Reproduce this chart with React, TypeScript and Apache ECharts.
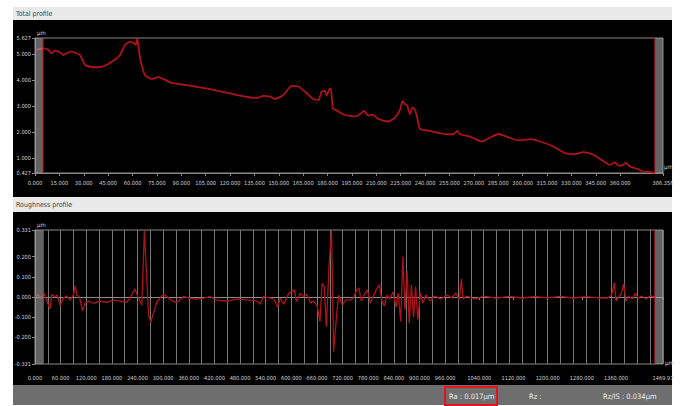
import React, { useEffect, useRef } from "react";
import * as echarts from "echarts";

// ---- data ----
const totalProfile: [number, number][] = [
  [0, 5.15], [2.5, 5.2], [5.5, 5.23], [8.2, 5.17], [10.2, 5.04], [12.3, 5.13], [15.4, 5.08],
  [17.4, 4.97], [19.5, 5.04], [22.6, 5.1], [25.6, 5.04], [27.7, 4.97], [30.8, 4.59], [33.8, 4.52],
  [39.0, 4.5], [43.0, 4.56], [48.2, 4.75], [52.3, 4.97], [55.4, 5.36], [58.4, 5.49], [60.9, 5.42],
  [62.1, 5.36], [62.9, 5.62], [64.6, 4.85], [67.7, 4.2], [71.8, 4.05], [75.9, 4.12], [78.9, 4.05],
  [83.1, 3.92], [95.4, 3.79], [109.7, 3.63], [124.1, 3.43], [136.4, 3.31], [140.5, 3.4],
  [144.6, 3.37], [147.6, 3.28], [152.8, 3.43], [157.9, 3.78], [162.0, 3.76], [167.2, 3.5],
  [171.2, 3.28], [174.3, 3.24], [176.4, 3.56], [178.4, 3.59], [179.4, 3.41], [180.9, 3.63],
  [182.0, 3.69], [183.3, 2.9], [185.6, 2.84], [189.7, 2.68], [193.8, 2.63], [196.9, 2.6],
  [199.9, 2.69], [202.4, 2.82], [205.0, 2.64], [207.7, 2.67], [211.2, 2.51], [217.3, 2.41],
  [221.5, 2.56], [224.5, 2.86], [226.2, 3.2], [227.6, 3.08], [229.0, 3.02], [230.7, 2.69],
  [232.1, 2.95], [233.8, 2.86], [235.2, 2.54], [236.9, 2.13], [243.0, 2.05], [253.3, 1.92],
  [257.4, 1.92], [259.8, 2.05], [261.5, 1.92], [267.6, 1.83], [274.8, 1.64], [279.9, 1.79],
  [285.0, 1.93], [290.2, 1.83], [297.3, 1.68], [304.5, 1.73], [310.7, 1.64], [318.9, 1.45],
  [326.0, 1.19], [332.2, 1.15], [337.3, 1.23], [343.5, 1.13], [348.6, 0.93], [353.7, 0.74],
  [356.8, 0.84], [358.9, 0.71], [362.0, 0.74], [363.4, 0.83], [366.0, 0.68], [370.2, 0.59],
  [374.3, 0.48], [378.4, 0.46], [381.5, 0.43],
];

const roughProfile: [number, number][] = [
  [0, 0.0], [8, 0.012], [15, -0.008], [21, 0.018], [27, -0.015], [35, -0.059], [39, 0.013],
  [47, 0.002], [52, 0.01], [59, -0.043], [66, -0.006], [74, 0.006], [82, -0.015], [90, 0.01],
  [94, 0.056], [98, 0.01], [104, 0.002], [111, -0.069], [117, -0.031], [125, -0.02], [137, -0.031],
  [152, -0.02], [168, -0.026], [184, -0.015], [199, -0.02], [215, -0.026], [223, -0.003],
  [234, 0.04], [242, -0.006], [250, -0.04], [256, 0.326], [262, 0.076], [266, -0.089],
  [271, -0.125], [277, -0.081], [285, -0.026], [295, 0.002], [302, 0.013], [313, -0.006],
  [324, -0.023], [332, -0.026], [348, 0.002], [363, -0.006], [379, -0.01], [395, -0.006],
  [410, 0.002], [426, -0.015], [449, -0.02], [473, -0.01], [504, -0.015], [520, -0.02],
  [527, -0.036], [535, 0.002], [547, -0.003], [559, -0.01], [568, -0.048], [574, -0.006],
  [582, -0.036], [594, 0.018], [602, 0.03], [607, 0.035], [612, -0.023], [621, 0.018],
  [629, 0.002], [637, 0.013], [645, -0.031], [652, -0.02], [660, -0.04], [667, -0.122],
  [672, 0.068], [677, 0.051], [682, -0.147], [688, 0.142], [694, 0.331], [699, -0.27],
  [706, -0.089], [711, 0.01], [719, -0.04], [727, -0.015], [738, -0.015], [745, -0.005],
  [752, 0.03], [758, 0.045], [764, -0.02], [770, 0.01], [778, 0.035], [785, -0.03], [792, 0.005],
  [800, 0.04], [806, 0.06], [812, -0.02], [818, -0.045], [824, 0.01], [830, -0.01], [838, 0.025],
  [845, -0.05], [850, 0.02], [856, -0.12], [861, 0.2], [866, -0.06], [871, 0.13], [876, -0.13],
  [881, 0.06], [886, -0.1], [891, 0.05], [896, -0.11], [902, 0.02], [908, -0.03], [915, 0.01],
  [925, -0.02], [935, 0.005], [950, -0.01], [965, 0.01], [975, -0.005], [985, 0.02], [993, -0.015],
  [998, 0.09], [1002, -0.01], [1010, 0.005], [1030, -0.01], [1050, 0.004], [1080, -0.006],
  [1110, 0.003], [1140, -0.005], [1170, 0.002], [1200, -0.004], [1230, 0.003], [1260, -0.005],
  [1290, 0.002], [1320, -0.004], [1340, -0.005], [1350, 0.01], [1356, 0.07], [1360, -0.02],
  [1366, 0.0], [1372, 0.015], [1378, 0.065], [1383, -0.02], [1390, 0.005], [1398, -0.01],
  [1405, 0.02], [1412, -0.005], [1420, 0.005], [1430, -0.01], [1440, 0.005], [1453, 0.0],
];

const totalXTicks = [0, 15, 30, 45, 60, 75, 90, 105, 120, 135, 150, 165, 180, 195, 210, 225, 240, 255, 270, 285, 300, 315, 330, 345, 360, 386.356];
const totalXLabels = ["0.000", "15.000", "30.000", "45.000", "60.000", "75.000", "90.000", "105.000", "120.000", "135.000", "150.000", "165.000", "180.000", "195.000", "210.000", "225.000", "240.000", "255.000", "270.000", "285.000", "300.000", "315.000", "330.000", "345.000", "360.000", "386.356"];
const totalYTicks = [0.427, 1, 2, 3, 4, 5, 5.627];
const totalYLabels = ["0.427", "1.000", "2.000", "3.000", "4.000", "5.000", "5.627"];

const roughXTicks = [0, 60, 120, 180, 240, 300, 360, 420, 480, 540, 600, 660, 720, 780, 840, 900, 960, 1040, 1120, 1200, 1280, 1360, 1469.97];
const roughXLabels = ["0.000", "60.000", "120.000", "180.000", "240.000", "300.000", "360.000", "420.000", "480.000", "540.000", "600.000", "660.000", "720.000", "780.000", "840.000", "900.000", "960.000", "1040.000", "1120.000", "1200.000", "1280.000", "1360.000", "1469.97"];
const roughYTicks = [-0.331, -0.2, -0.1, 0, 0.1, 0.2, 0.331];
const roughYLabels = ["-0.331", "-0.200", "-0.100", "0.000", "0.100", "0.200", "0.331"];

// cursor bands: [start, end, cursor line position]
const totalCursors = [[0, 4.9, 4.9], [381.4, 386.356, 381.4]];
const roughCursors = [[0, 20, 20], [1451, 1469.97, 1451]];

const totalRange = { xMin: 0, xMax: 386.356, yMin: 0.427, yMax: 5.627 };
const roughRange = { xMin: 0, xMax: 1469.97, yMin: -0.331, yMax: 0.331, gridStep: 30 };

const panelTitles = ["Total profile", "Roughness profile"];
const statusTexts = ["Ra : 0.017µm", "Rz :", "Rz/IS : 0.034µm"];
const unitText = "µm";

const FONT = "'DejaVu Sans Condensed', 'Liberation Sans Narrow', 'Noto Sans', sans-serif";
const LABEL_COLOR = "#d2d2d2";
const AXIS_COLOR = "#8a8a8a";
const CURVE_COLOR = "#b0121a";

function fmt(ticks: number[], labels: string[]) {
  return (v: number) => {
    const i = ticks.findIndex((t) => Math.abs(t - v) < 1e-6);
    return i >= 0 ? labels[i] : "";
  };
}

function cursorSeries(data: number[][], xi: number, yMin: number, yMax: number) {
  return {
    type: "custom",
    xAxisIndex: xi,
    yAxisIndex: xi,
    silent: true,
    z: 10,
    data,
    encode: { x: [0, 1, 2] },
    renderItem: (_p: any, api: any) => {
      const x0 = api.value(0);
      const x1 = api.value(1);
      const xe = api.value(2);
      const a = api.coord([x0, yMax]);
      const b = api.coord([x1, yMin]);
      const e1 = api.coord([xe, yMax]);
      const e2 = api.coord([xe, yMin]);
      return {
        type: "group",
        children: [
          {
            type: "rect",
            shape: { x: a[0], y: a[1], width: b[0] - a[0], height: b[1] - a[1] },
            style: { fill: "rgba(165,165,165,0.6)" },
          },
          {
            type: "line",
            shape: { x1: e1[0], y1: e1[1], x2: e2[0], y2: e2[1] },
            style: { stroke: "#cc1f27", lineWidth: 1 },
          },
        ],
      };
    },
  };
}

export default function App() {
  const ref = useRef<HTMLDivElement>(null);

  useEffect(() => {
    if (!ref.current) return;
    const chart = echarts.init(ref.current, null, { renderer: "svg" });

    const axisLabelBase = { color: LABEL_COLOR, fontSize: 5.6, fontFamily: FONT, hideOverlap: false };

    const option: any = {
      animation: false,
      backgroundColor: "#ffffff",
      grid: [
        { left: 35, right: 19, top: 38, height: 135, show: true, borderColor: AXIS_COLOR, borderWidth: 1, backgroundColor: "transparent" },
        { left: 35, right: 19, top: 230, height: 134, show: true, borderColor: AXIS_COLOR, borderWidth: 1, backgroundColor: "transparent" },
      ],
      xAxis: [
        {
          type: "value", gridIndex: 0, min: totalRange.xMin, max: totalRange.xMax,
          axisLine: { show: true, lineStyle: { color: AXIS_COLOR } },
          axisTick: { show: true, customValues: totalXTicks, length: 3, lineStyle: { color: AXIS_COLOR } },
          axisLabel: { ...axisLabelBase, customValues: totalXTicks, formatter: fmt(totalXTicks, totalXLabels), margin: 7 },
          splitLine: { show: false },
        },
        {
          type: "value", gridIndex: 1, min: roughRange.xMin, max: roughRange.xMax,
          axisLine: { show: true, lineStyle: { color: AXIS_COLOR } },
          axisTick: { show: true, customValues: roughXTicks, length: 3, lineStyle: { color: AXIS_COLOR } },
          axisLabel: { ...axisLabelBase, customValues: roughXTicks, formatter: fmt(roughXTicks, roughXLabels), margin: 11 },
          splitLine: { show: false },
        },
        {
          type: "value", gridIndex: 1, min: roughRange.xMin, max: roughRange.xMax, interval: roughRange.gridStep,
          axisLine: { show: false }, axisTick: { show: false }, axisLabel: { show: false },
          splitLine: { show: true, lineStyle: { color: "#767676", width: 1 } },
        },
      ],
      yAxis: [
        {
          type: "value", gridIndex: 0, min: totalRange.yMin, max: totalRange.yMax,
          axisLine: { show: true, lineStyle: { color: AXIS_COLOR } },
          axisTick: { show: true, customValues: totalYTicks, length: 3, lineStyle: { color: AXIS_COLOR } },
          axisLabel: { ...axisLabelBase, customValues: totalYTicks, formatter: fmt(totalYTicks, totalYLabels), margin: 4 },
          splitLine: { show: false },
        },
        {
          type: "value", gridIndex: 1, min: roughRange.yMin, max: roughRange.yMax,
          axisLine: { show: true, lineStyle: { color: AXIS_COLOR } },
          axisTick: { show: true, customValues: roughYTicks, length: 3, lineStyle: { color: AXIS_COLOR } },
          axisLabel: { ...axisLabelBase, customValues: roughYTicks, formatter: fmt(roughYTicks, roughYLabels), margin: 4 },
          splitLine: { show: false },
        },
      ],
      series: [
        {
          type: "line", xAxisIndex: 0, yAxisIndex: 0, data: totalProfile, showSymbol: false,
          smooth: 0.2, lineStyle: { color: CURVE_COLOR, width: 1.8 }, silent: true, z: 5,
        },
        {
          type: "line", xAxisIndex: 1, yAxisIndex: 1, data: roughProfile, showSymbol: false,
          lineStyle: { color: CURVE_COLOR, width: 1.3 }, silent: true, z: 5,
          markLine: {
            silent: true, symbol: "none", label: { show: false },
            lineStyle: { color: "#8a8a8a", width: 1, type: "solid" },
            data: [{ yAxis: 0 }],
            z: 3,
          },
        },
        cursorSeries(totalCursors, 0, totalRange.yMin, totalRange.yMax),
        cursorSeries(roughCursors, 1, roughRange.yMin, roughRange.yMax),
      ],
      graphic: [
        // panel backgrounds
        { type: "rect", z: -10, silent: true, shape: { x: 13, y: 7, width: 659, height: 13 }, style: { fill: "#e9e9e9" } },
        { type: "rect", z: -10, silent: true, shape: { x: 13, y: 20, width: 659, height: 177 }, style: { fill: "#000000" } },
        { type: "rect", z: -10, silent: true, shape: { x: 13, y: 197, width: 659, height: 15 }, style: { fill: "#e9e9e9" } },
        { type: "rect", z: -10, silent: true, shape: { x: 13, y: 212, width: 659, height: 173 }, style: { fill: "#000000" } },
        { type: "rect", z: -10, silent: true, shape: { x: 13, y: 385, width: 659, height: 20 }, style: { fill: "#6e6e6e" } },
        // titles
        { type: "text", z: 100, silent: true, x: 16, y: 14, style: { text: panelTitles[0], fill: "#444", fontSize: 7, fontFamily: FONT, verticalAlign: "middle" } },
        { type: "text", z: 100, silent: true, x: 16, y: 205, style: { text: panelTitles[1], fill: "#444", fontSize: 7, fontFamily: FONT, verticalAlign: "middle" } },
        // units
        { type: "text", z: 100, silent: true, x: 37, y: 32, style: { text: unitText, fill: LABEL_COLOR, fontSize: 6, fontFamily: FONT, verticalAlign: "middle" } },
        { type: "text", z: 100, silent: true, x: 664, y: 166, style: { text: unitText, fill: LABEL_COLOR, fontSize: 6, fontFamily: FONT, verticalAlign: "middle" } },
        { type: "text", z: 100, silent: true, x: 37, y: 224, style: { text: unitText, fill: LABEL_COLOR, fontSize: 6, fontFamily: FONT, verticalAlign: "middle" } },
        { type: "text", z: 100, silent: true, x: 665, y: 362, style: { text: unitText, fill: LABEL_COLOR, fontSize: 6, fontFamily: FONT, verticalAlign: "middle" } },
        // status bar
        { type: "text", z: 100, silent: true, x: 449, y: 396, style: { text: statusTexts[0], fill: "#ececec", fontSize: 7.5, fontFamily: FONT, verticalAlign: "middle" } },
        { type: "text", z: 100, silent: true, x: 529, y: 396, style: { text: statusTexts[1], fill: "#ececec", fontSize: 7.5, fontFamily: FONT, verticalAlign: "middle" } },
        { type: "text", z: 100, silent: true, x: 603, y: 396, style: { text: statusTexts[2], fill: "#ececec", fontSize: 7.5, fontFamily: FONT, verticalAlign: "middle" } },
        { type: "rect", z: 100, silent: true, shape: { x: 445, y: 387, width: 52, height: 18 }, style: { fill: "none", stroke: "#e3121c", lineWidth: 2 } },
      ],
    };

    chart.setOption(option);
    return () => chart.dispose();
  }, []);

  return (
    <div
      ref={ref}
      style={{ position: "fixed", left: 0, top: 0, width: 682, height: 406 }}
    />
  );
}
